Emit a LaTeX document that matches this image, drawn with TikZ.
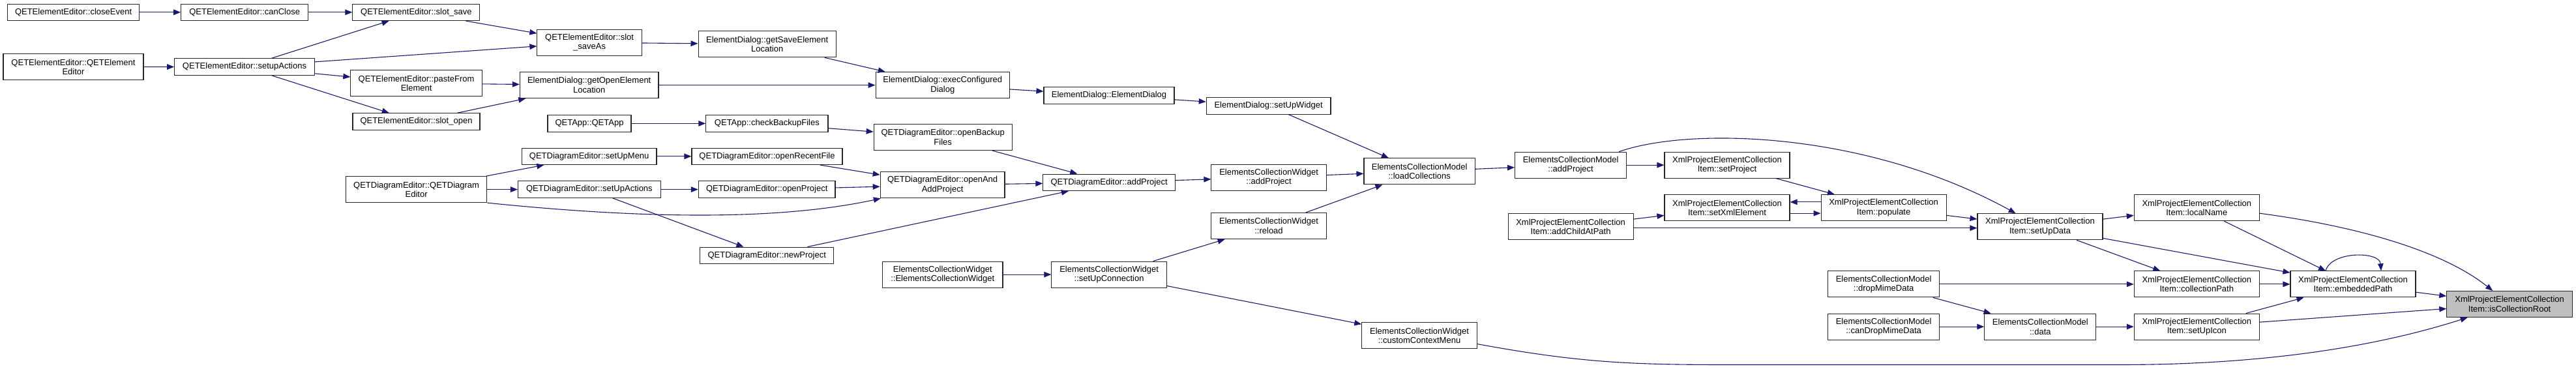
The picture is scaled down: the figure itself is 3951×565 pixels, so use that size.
\documentclass[tikz,border=0pt]{standalone}
\usepackage{fontspec}
\setmainfont{Liberation Sans}
\usetikzlibrary{arrows.meta}
\definecolor{edgeblue}{RGB}{25,25,112}
\definecolor{rootgray}{RGB}{191,191,191}
\begin{document}
\begin{tikzpicture}[x=1pt,y=-1pt,
    fn/.style={draw=black!85,line width=1.1pt,fill=white,inner xsep=2pt,inner ysep=0pt,
      minimum height=25.5pt,align=center,font=\fontsize{13}{14.5}\selectfont},
    fn2/.style={fn,minimum height=40pt},
    >={Triangle[length=11pt,width=8.5pt]},
    call/.style={->,draw=edgeblue,line width=1.1pt}]
    \useasboundingbox (0,0) rectangle (3951,565);

    \node[fn,minimum width=202pt] (CLOSE) at (112.6,18.8) {QETElementEditor::closeEvent};
    \node[fn,minimum width=195pt] (CANCLOSE) at (375.2,18.8) {QETElementEditor::canClose};
    \node[fn,minimum width=195pt] (SAVE) at (638.4,18.8) {QETElementEditor::slot\_save};
    \node[fn2,minimum width=215pt] (EECTOR) at (112.5,102.7) {QETElementEditor::QETElement\\Editor};
    \node[fn,minimum width=214.6pt] (SETUPACT) at (375,102.5) {QETElementEditor::setupActions};
    \node[fn2,minimum width=201.4pt] (PASTE) at (638.6,127.7) {QETElementEditor::pasteFrom\\Element};
    \node[fn,minimum width=195pt] (OPEN) at (638.5,186.5) {QETElementEditor::slot\_open};
    \node[fn2,minimum width=216.6pt] (DECTOR) at (638.6,290.6) {QETDiagramEditor::QETDiagram\\Editor};
    \node[fn2,minimum width=160.4pt] (SAVEAS) at (904.1,65.2) {QETElementEditor::slot\\\_saveAs};
    \node[fn2,minimum width=211.3pt] (GETSAVE) at (1176.7,67.8) {ElementDialog::getSaveElement\\Location};
    \node[fn2,minimum width=212.6pt] (GETOPEN) at (903.7,130.6) {ElementDialog::getOpenElement\\Location};
    \node[fn,minimum width=128pt] (APP) at (904,189.4) {QETApp::QETApp};
    \node[fn,minimum width=187.2pt] (CHECKBK) at (1176.4,189.4) {QETApp::checkBackupFiles};
    \node[fn,minimum width=206.6pt] (SETUPMENU) at (903.7,239.8) {QETDiagramEditor::setUpMenu};
    \node[fn,minimum width=231pt] (RECENT) at (1176.5,239.8) {QETDiagramEditor::openRecentFile};
    \node[fn,minimum width=218.8pt] (SETUPACTD) at (903.9,290.6) {QETDiagramEditor::setUpActions};
    \node[fn,minimum width=209.6pt] (OPENPRJ) at (1176.2,290.6) {QETDiagramEditor::openProject};
    \node[fn,minimum width=205.4pt] (NEWPRJ) at (1176.2,391.9) {QETDiagramEditor::newProject};
    \node[fn2,minimum width=205.4pt] (EXEC) at (1445.8,130.6) {ElementDialog::execConfigured\\Dialog};
    \node[fn,minimum width=200pt] (EDCTOR) at (1701,146.3) {ElementDialog::ElementDialog};
    \node[fn,minimum width=190.7pt] (SETUPWID) at (1945.6,162.3) {ElementDialog::setUpWidget};
    \node[fn2,minimum width=212pt] (OPENBK) at (1446.2,210.4) {QETDiagramEditor::openBackup\\Files};
    \node[fn2,minimum width=190.7pt] (OPENADD) at (1445.6,283.8) {QETDiagramEditor::openAnd\\AddProject};
    \node[fn,minimum width=202.4pt] (ADDPRJ) at (1701.1,279.8) {QETDiagramEditor::addProject};
    \node[fn2,minimum width=176.4pt] (ECWADD) at (1946.1,272.1) {ElementsCollectionWidget\\::addProject};
    \node[fn2,minimum width=176.4pt] (RELOAD) at (1946,346.5) {ElementsCollectionWidget\\::reload};
    \node[fn2,minimum width=184.3pt] (ECWCTOR) at (1445.8,421.1) {ElementsCollectionWidget\\::ElementsCollectionWidget};
    \node[fn2,minimum width=176.4pt] (SETUPCON) at (1701.1,421.1) {ElementsCollectionWidget\\::setUpConnection};
    \node[fn2,minimum width=170.5pt] (LOADCOL) at (2177.2,262.9) {ElementsCollectionModel\\::loadCollections};
    \node[fn2,minimum width=171pt] (ECMADD) at (2409.1,253.2) {ElementsCollectionModel\\::addProject};
    \node[fn2,minimum width=192pt] (SETPRJ) at (2649,253.2) {XmlProjectElementCollection\\Item::setProject};
    \node[fn2,minimum width=192pt] (SETXML) at (2649,318.7) {XmlProjectElementCollection\\Item::setXmlElement};
    \node[fn2,minimum width=192pt] (ADDCHILD) at (2409.1,347.8) {XmlProjectElementCollection\\Item::addChildAtPath};
    \node[fn2,minimum width=176.3pt] (CTXMENU) at (2177,514.6) {ElementsCollectionWidget\\::customContextMenu};
    \node[fn2,minimum width=192pt] (POPULATE) at (2889.1,318.7) {XmlProjectElementCollection\\Item::populate};
    \node[fn2,minimum width=192pt] (SETUPDATA) at (3129,347.8) {XmlProjectElementCollection\\Item::setUpData};
    \node[fn2,minimum width=171pt] (DROPMIME) at (2889.1,435.9) {ElementsCollectionModel\\::dropMimeData};
    \node[fn2,minimum width=171pt] (CANDROP) at (2889.1,501.1) {ElementsCollectionModel\\::canDropMimeData};
    \node[fn2,minimum width=171pt] (DATA) at (3129.3,501.1) {ElementsCollectionModel\\::data};
    \node[fn2,minimum width=192pt] (LOCALNAME) at (3369.3,318.7) {XmlProjectElementCollection\\Item::localName};
    \node[fn2,minimum width=192pt] (COLLPATH) at (3369.3,435.9) {XmlProjectElementCollection\\Item::collectionPath};
    \node[fn2,minimum width=192pt] (SETUPICON) at (3369.3,501.1) {XmlProjectElementCollection\\Item::setUpIcon};
    \node[fn2,minimum width=192pt] (EMBPATH) at (3609,435.9) {XmlProjectElementCollection\\Item::embeddedPath};
    \node[fn2,minimum width=192.6pt,fill=rootgray] (ROOT) at (3849.1,466.5) {XmlProjectElementCollection\\Item::isCollectionRoot};

    \draw[call] (CLOSE) -- (CANCLOSE);
    \draw[call] (CANCLOSE) -- (SAVE);
    \draw[call] (SETUPACT) -- (SAVE);
    \draw[call] (EECTOR) -- (SETUPACT);
    \draw[call] (SETUPACT) -- (SAVEAS);
    \draw[call] (SAVE) -- (SAVEAS);
    \draw[call] (SETUPACT) -- (PASTE);
    \draw[call] (SETUPACT) -- (OPEN);
    \draw[call] (SAVEAS) -- (GETSAVE);
    \draw[call] (PASTE) -- (GETOPEN);
    \draw[call] (OPEN) -- (GETOPEN);
    \draw[call] (GETSAVE) -- (EXEC);
    \draw[call] (GETOPEN) -- (EXEC);
    \draw[call] (EXEC) -- (EDCTOR);
    \draw[call] (EDCTOR) -- (SETUPWID);
    \draw[call] (SETUPWID) -- (LOADCOL);
    \draw[call] (APP) -- (CHECKBK);
    \draw[call] (CHECKBK) -- (OPENBK);
    \draw[call] (OPENBK) -- (ADDPRJ);
    \draw[call] (DECTOR) -- (SETUPMENU);
    \draw[call] (DECTOR) -- (SETUPACTD);
    \draw[call] (DECTOR.south east) .. controls (1000,337) and (1200,337) .. (OPENADD);
    \draw[call] (SETUPMENU) -- (RECENT);
    \draw[call] (SETUPACTD) -- (OPENPRJ);
    \draw[call] (SETUPACTD) -- (NEWPRJ);
    \draw[call] (RECENT) -- (OPENADD);
    \draw[call] (OPENPRJ) -- (OPENADD);
    \draw[call] (NEWPRJ) -- (ADDPRJ);
    \draw[call] (OPENADD) -- (ADDPRJ);
    \draw[call] (ADDPRJ) -- (ECWADD);
    \draw[call] (ECWADD) -- (LOADCOL);
    \draw[call] (RELOAD) -- (LOADCOL);
    \draw[call] (ECWCTOR) -- (SETUPCON);
    \draw[call] (SETUPCON) -- (RELOAD);
    \draw[call] (SETUPCON) -- (CTXMENU);
    \draw[call] (LOADCOL) -- (ECMADD);
    \draw[call] (ECMADD) -- (SETPRJ);
    \draw[call] ([xshift=-12pt]ECMADD.north east) .. controls (2590,195) and (2860,200) .. (SETUPDATA);
    \draw[call] (SETPRJ) -- (POPULATE);
    \draw[call] ([yshift=8.8pt]POPULATE.west) -- ([yshift=8.8pt]SETXML.east);
    \draw[call] ([yshift=-8.5pt]SETXML.east) -- ([yshift=-8.5pt]POPULATE.west);
    \draw[call] (ADDCHILD) -- (SETXML);
    \draw[call] ([yshift=-2pt]ADDCHILD.east) -- ([yshift=-2pt]SETUPDATA.west);
    \draw[call] (POPULATE) -- (SETUPDATA);
    \draw[call] (SETUPDATA) -- (LOCALNAME);
    \draw[call] (SETUPDATA) -- (EMBPATH);
    \draw[call] (SETUPDATA) -- (COLLPATH);
    \draw[call] (DROPMIME) -- (COLLPATH);
    \draw[call] (DROPMIME) -- (DATA);
    \draw[call] (CANDROP) -- (DATA);
    \draw[call] (DATA) -- (SETUPICON);
    \draw[call] (LOCALNAME) -- (EMBPATH);
    \draw[call] ([yshift=-8.5pt]LOCALNAME.east) .. controls (3600,345) and (3740,380) .. (ROOT);
    \draw[call] ([xshift=-42pt]EMBPATH.north) .. controls (3575,385) and (3650,385) .. ([xshift=43pt]EMBPATH.north);
    \draw[call] (COLLPATH) -- (EMBPATH);
    \draw[call] (SETUPICON) -- (EMBPATH);
    \draw[call] (EMBPATH) -- (ROOT);
    \draw[call] (SETUPICON) -- (ROOT);
    \draw[call] ([yshift=-13pt]CTXMENU.east) .. controls (2420,556) and (2500,559.5) .. (2650,559.5)
      -- (3250,559.5) .. controls (3480,559.5) and (3650,530) .. (ROOT);
  \end{tikzpicture}
\end{document}
